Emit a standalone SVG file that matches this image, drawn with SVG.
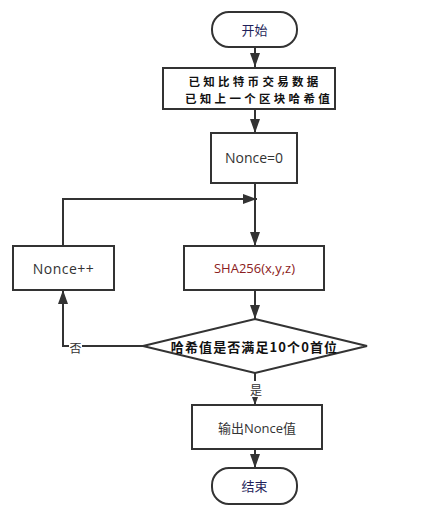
<svg xmlns="http://www.w3.org/2000/svg" width="437" height="518" viewBox="0 0 437 518">
<style>
.box{fill:#fff;stroke:#333;stroke-width:2}
.ln{fill:none;stroke:#333;stroke-width:2}
.t{font-family:"Open Sans","Noto Sans CJK SC",sans-serif;font-size:13px;fill:#333;text-anchor:middle;dominant-baseline:central}
.n{font-size:14px}
.b{font-family:"Noto Sans CJK SC",sans-serif;font-size:11.5px;font-weight:bold;fill:#111;text-anchor:middle;dominant-baseline:central;letter-spacing:3.3px}
.lbl{font-family:"Noto Sans CJK SC",sans-serif;font-size:12px;fill:#333;text-anchor:middle;dominant-baseline:central}
</style>
<defs>
<marker id="ah" viewBox="0 0 14 10" refX="14" refY="5" markerWidth="14" markerHeight="10" markerUnits="userSpaceOnUse" orient="auto">
<path d="M0,0 L14,5 L0,10 Z" fill="#333"/>
</marker>
<marker id="as" viewBox="0 0 8 6" refX="8" refY="3" markerWidth="8" markerHeight="6" markerUnits="userSpaceOnUse" orient="auto">
<path d="M0,0 L8,3 L0,6 Z" fill="#333"/>
</marker>
</defs>
<g id="connectors">
<line class="ln" x1="255" y1="47" x2="255" y2="67" marker-end="url(#ah)"/>
<line class="ln" x1="255" y1="109" x2="255" y2="133" marker-end="url(#ah)"/>
<line class="ln" x1="255" y1="183" x2="255" y2="246" marker-end="url(#ah)"/>
<polyline class="ln" points="63,246 63,199 257,199" marker-end="url(#ah)"/>
<line class="ln" x1="255" y1="290" x2="255" y2="319" marker-end="url(#ah)"/>
<polyline class="ln" points="143,346 63,346 63,290" marker-end="url(#ah)"/>
<rect x="69" y="339" width="13" height="15" fill="#fff"/>
<text class="lbl" x="75.5" y="347.5">否</text>
<line class="ln" x1="255" y1="373" x2="255" y2="405" marker-end="url(#as)"/>
<rect x="248" y="381" width="15" height="16" fill="#fff"/>
<text class="lbl" x="256" y="389">是</text>
<line class="ln" x1="255" y1="449" x2="255" y2="468" marker-end="url(#ah)"/>
</g>
<g id="start">
<rect class="box" x="212" y="12" width="85" height="35" rx="17" ry="17"/>
<text class="t" x="254.5" y="29.5" style="fill:#1f1f5a">开始</text>
</g>
<g id="input">
<rect class="box" x="163" y="68" width="172" height="41"/>
<text class="b" x="255" y="80.5">已知比特币交易数据</text>
<text class="b" x="259" y="97.5">已知上一个区块哈希值</text>
</g>
<g id="init">
<rect class="box" x="211" y="133" width="86" height="50"/>
<text class="t n" x="254" y="157.5">Nonce=0</text>
</g>
<g id="inc">
<rect class="box" x="13" y="246" width="101" height="44"/>
<text class="t n" x="63.5" y="268" letter-spacing="0.5">Nonce++</text>
</g>
<g id="sha">
<rect class="box" x="184" y="246" width="140" height="44"/>
<text class="t" x="254.5" y="268" style="fill:#8b2020">SHA256(x,y,z)</text>
</g>
<g id="check">
<polygon class="box" points="255,319 367,346 255,373 143,346"/>
<text class="b" x="254.5" y="346" style="font-size:13px;letter-spacing:1.1px">哈希值是否满足10个0首位</text>
</g>
<g id="output">
<rect class="box" x="192" y="405" width="130" height="44"/>
<text class="t" x="257" y="428">输出Nonce值</text>
</g>
<g id="end">
<rect class="box" x="212" y="468" width="85" height="36" rx="17" ry="17"/>
<text class="t" x="254.5" y="486" style="fill:#1f1f5a">结束</text>
</g>
</svg>
